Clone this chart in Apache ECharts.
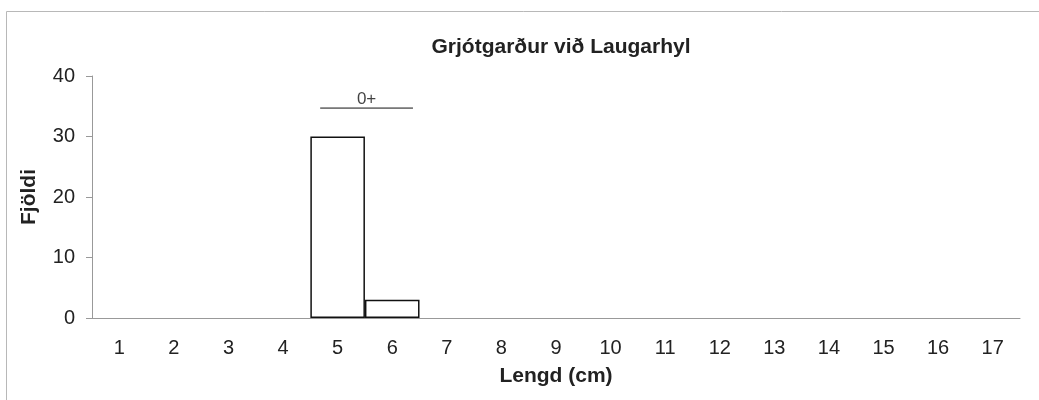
<!DOCTYPE html>
<html>
<head>
<meta charset="utf-8">
<script src="https://cdn.jsdelivr.net/npm/echarts@6/dist/echarts.min.js"></script>
<style>
  html, body { margin: 0; padding: 0; background: #fff; }
  #chart { width: 1039px; height: 400px; }
</style>
</head>
<body>
<div id="chart"></div>
<script>
// lengdardreifing - Grjótgarður við Laugarhyl
var lengths = ['1', '2', '3', '4', '5', '6', '7', '8', '9', '10', '11', '12', '13', '14', '15', '16', '17'];
var counts = [0, 0, 0, 0, 30, 3, 0, 0, 0, 0, 0, 0, 0, 0, 0, 0, 0];
var yTicks = [0, 10, 20, 30, 40];

// aldurshópur merktur fyrir ofan súlurnar
var cohortLabel = '0+';
var cohortFrom = 4.68;
var cohortTo = 6.38;
var cohortLevel = 34.7;

window.onload = start_chart();
function start_chart() {
    var myChart = echarts.init(document.getElementById('chart'));
    var font = 'Liberation Sans, Arial, sans-serif';

    var option = {
        backgroundColor: '#fff',
        animation: false,
        textStyle: { fontFamily: font },
        title: {
            text: 'Grjótgarður við Laugarhyl',
            left: 556,
            textAlign: 'center',
            top: 32,
            textStyle: { fontSize: 21, fontWeight: 'bold', color: '#222', fontFamily: font }
        },
        graphic: [{
            type: 'rect',
            shape: { x: 6.5, y: 11.5, width: 1100, height: 500 },
            style: { fill: 'none', stroke: '#b8b8b8', lineWidth: 1 },
            silent: true
        }],
        grid: { left: 92, right: 19, top: 76, bottom: 82 },
        xAxis: [{
            type: 'category',
            data: lengths,
            name: 'Lengd (cm)',
            nameLocation: 'middle',
            nameGap: 48,
            nameTextStyle: { fontSize: 21, fontWeight: 'bold', color: '#222' },
            axisLine: { lineStyle: { color: '#999', width: 1 } },
            axisTick: { length: 7, lineStyle: { color: '#999' } },
            axisLabel: { fontSize: 20, color: '#222', margin: 20 }
        }, {
            type: 'value',
            min: 0.5,
            max: 17.5,
            show: false
        }],
        yAxis: {
            type: 'value',
            min: yTicks[0],
            max: yTicks[yTicks.length - 1],
            interval: 10,
            name: 'Fjöldi',
            nameLocation: 'middle',
            nameGap: 52,
            nameTextStyle: { fontSize: 21, fontWeight: 'bold', color: '#222' },
            axisLine: { show: true, lineStyle: { color: '#999', width: 1 } },
            axisTick: { show: true, length: 6, lineStyle: { color: '#999' } },
            axisLabel: { fontSize: 20, color: '#222', margin: 17 },
            splitLine: { show: false }
        },
        series: [{
            type: 'bar',
            data: counts.map(function (v) { return v === 0 ? '-' : v; }),
            barCategoryGap: '0%',
            itemStyle: { color: '#fff', borderColor: '#111', borderWidth: 1.5 }
        }, {
            type: 'line',
            xAxisIndex: 1,
            data: [[cohortFrom, cohortLevel], [cohortTo, cohortLevel]],
            symbol: 'none',
            lineStyle: { color: '#111', width: 1 }
        }, {
            type: 'scatter',
            xAxisIndex: 1,
            data: [[(cohortFrom + cohortTo) / 2, cohortLevel]],
            symbolSize: 0,
            label: {
                show: true,
                position: 'top',
                distance: 0,
                formatter: cohortLabel,
                fontSize: 17,
                color: '#111'
            }
        }]
    };

    myChart.setOption(option);
}
</script>
</body>
</html>
